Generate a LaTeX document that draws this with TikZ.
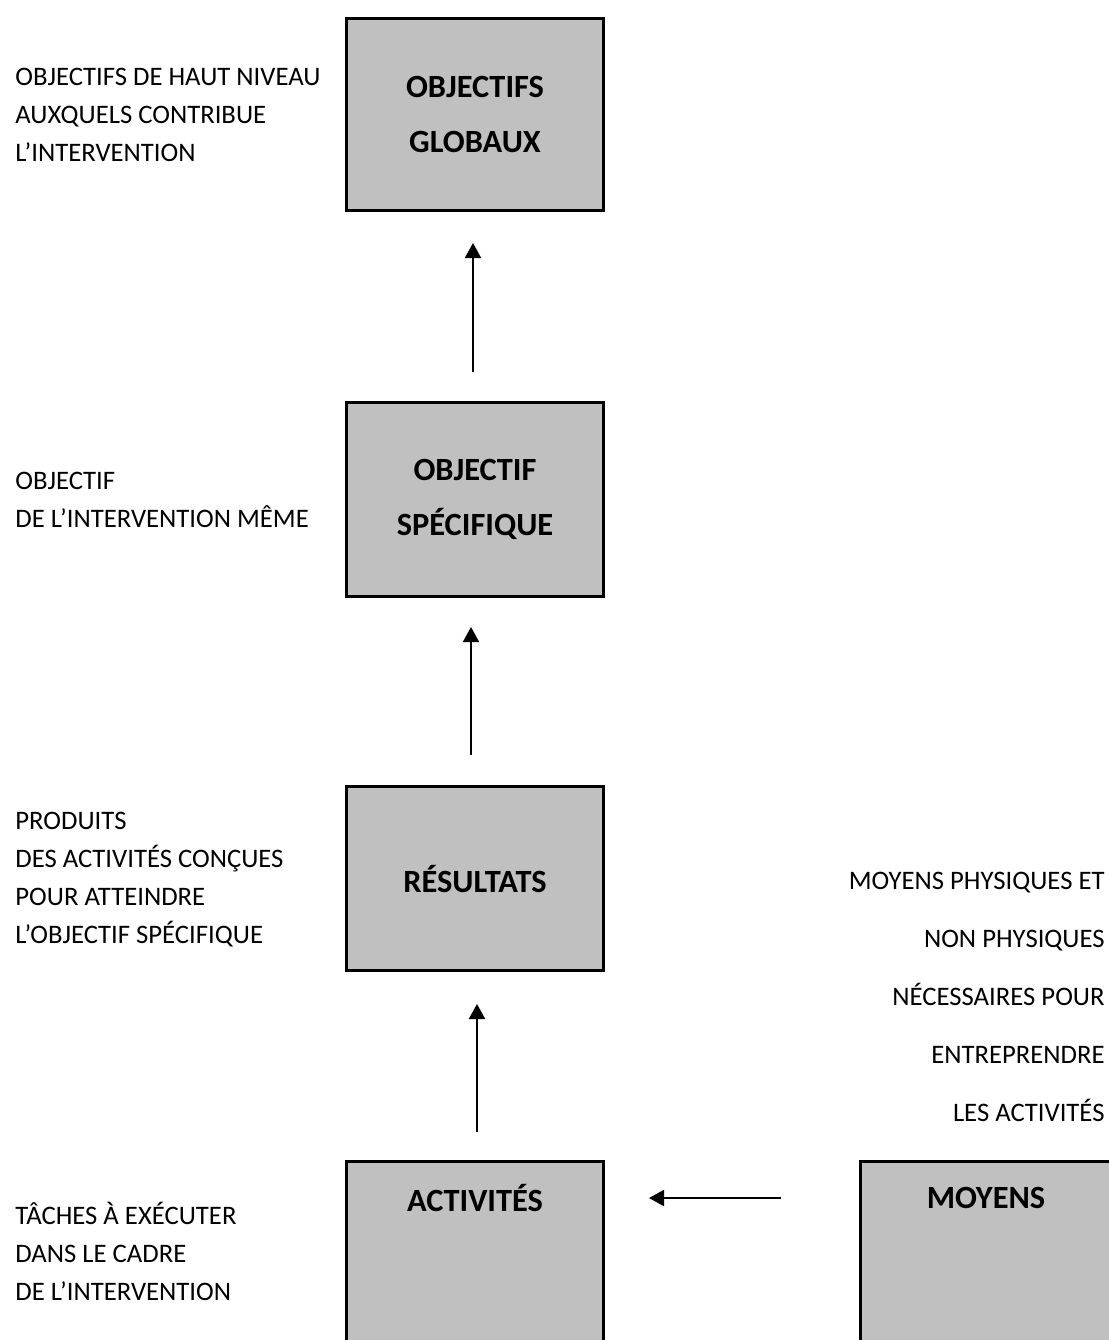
\documentclass[tikz,border=0pt]{standalone}
\usepackage{fontspec}
\setmainfont{Carlito}
\usetikzlibrary{arrows.meta,positioning}
\definecolor{boxgray}{HTML}{C0C0C0}
\tikzstyle{box}=[rectangle, draw=black, fill=boxgray, line width=1.5pt, minimum width=128.5pt, inner sep=0pt, font=\fontsize{16.2}{27.5}\selectfont\bfseries, align=center]
\tikzstyle{boxlbl}=[inner sep=0pt, font=\fontsize{16.2}{27.5}\selectfont\bfseries]
\tikzstyle{side}=[inner sep=0pt, font=\fontsize{13.35}{19}\selectfont, align=left, anchor=west]
\tikzstyle{sider}=[inner sep=0pt, font=\fontsize{13.35}{29}\selectfont, align=right, anchor=east]
\tikzstyle{arr}=[line width=1pt, -{Triangle[width=8pt,length=7.5pt]}]

\begin{document}
\begin{tikzpicture}[x=0.5pt, y=-0.5pt]
    \useasboundingbox (0,0) rectangle (1109,1340);
    \clip (0,0) rectangle (1109,1340);

    % chain of boxes
    \node (glob) [box, minimum height=96pt] at (475,114.5) {OBJECTIFS\\GLOBAUX};
    \node (spec) [box, minimum height=97pt] at (475,499.5) {OBJECTIF\\SPÉCIFIQUE};
    \node (res) [box, minimum height=92pt] at (475,878.5) {RÉSULTATS};
    \node (act) [box, minimum height=100pt, anchor=north west] at (345,1160) {};
    \node (moy) [box, minimum height=100pt, anchor=north west] at (859,1160) {};
    \node (actlbl) [boxlbl] at (475,1198) {ACTIVITÉS};
    \node (moylbl) [boxlbl] at (986,1198) {MOYENS};

    \draw[arr, shorten <=14.5pt, shorten >=15.5pt] ([xshift=-1pt]spec.north) -- ([xshift=-1pt]glob.south);
    \draw[arr, shorten <=15pt, shorten >=14.5pt] ([xshift=-2pt]res.north) -- ([xshift=-2pt]spec.south);
    \draw[arr, shorten <=14pt, shorten >=16pt] ([xshift=1pt]act.north) -- ([xshift=1pt]res.south);
    \draw[arr, shorten <=39pt, shorten >=22pt] (moy.west |- moylbl) -- (act.east |- actlbl);

    % descriptions
    \node (globtxt) [side] at (15,115) {OBJECTIFS DE HAUT NIVEAU\\AUXQUELS CONTRIBUE\\L’INTERVENTION};
    \node (spectxt) [side] at (15,500) {OBJECTIF\\DE L’INTERVENTION MÊME};
    \node (restxt) [side] at (15,879.5) {PRODUITS\\DES ACTIVITÉS CONÇUES\\POUR ATTEINDRE\\L’OBJECTIF SPÉCIFIQUE};
    \node (acttxt) [side] at (15,1251) {TÂCHES À EXÉCUTER\\DANS LE CADRE\\DE L’INTERVENTION};
    \node (moytxt) [sider] at (1105,997) {MOYENS PHYSIQUES ET\\NON PHYSIQUES\\NÉCESSAIRES POUR\\ENTREPRENDRE\\LES ACTIVITÉS};
\end{tikzpicture}
\end{document}
